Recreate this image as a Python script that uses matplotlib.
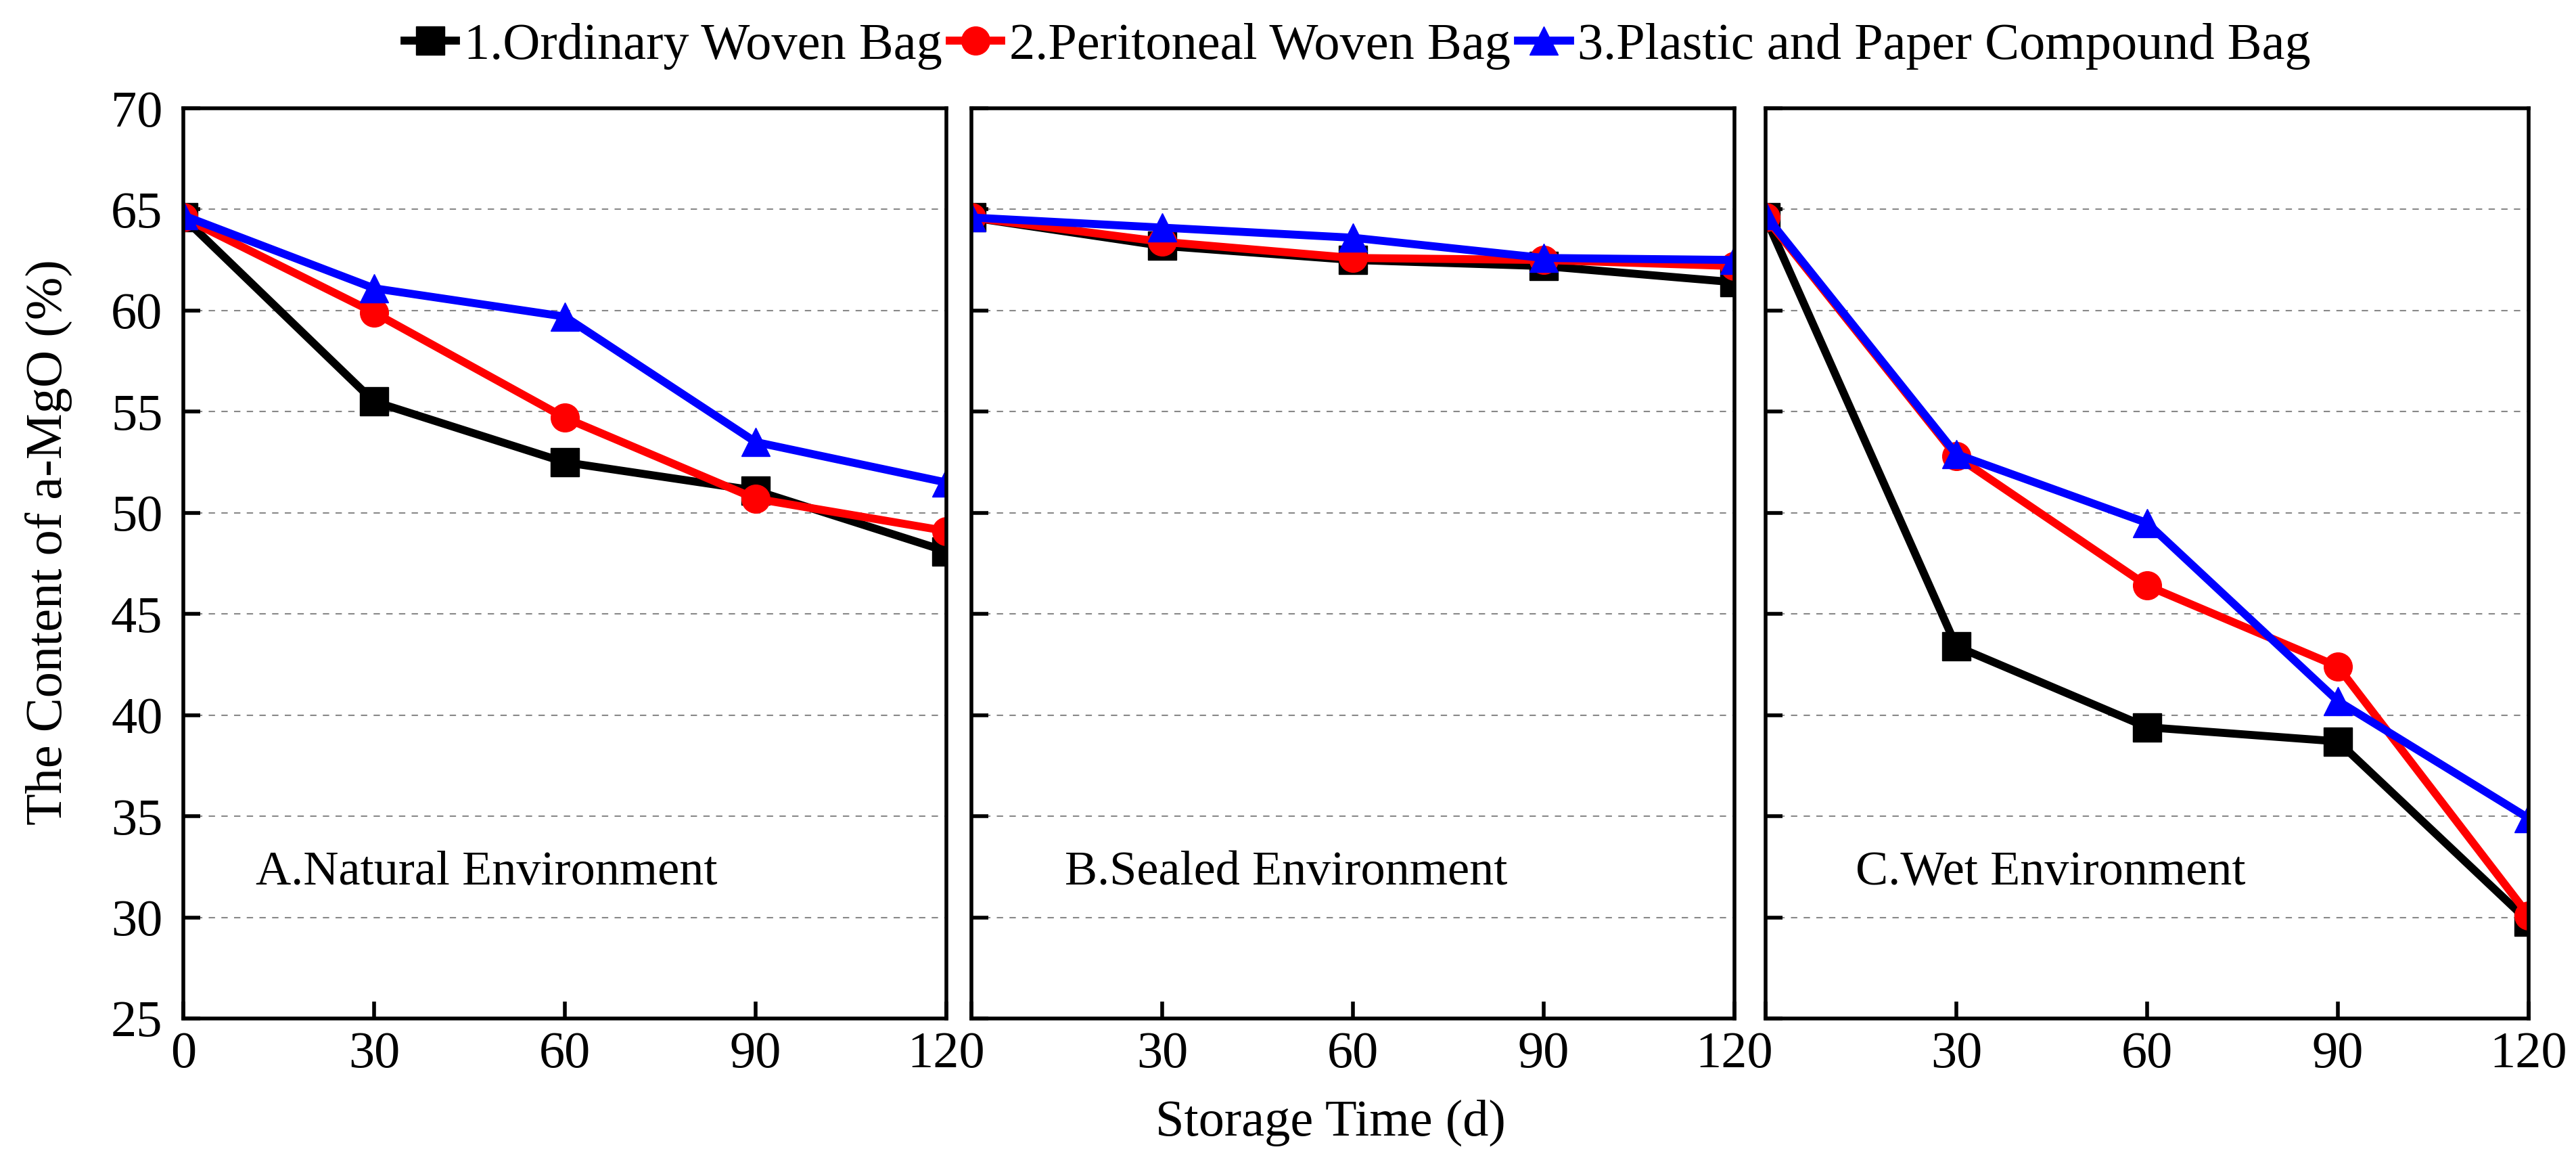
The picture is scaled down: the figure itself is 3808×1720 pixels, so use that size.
import matplotlib
matplotlib.use("Agg")
import matplotlib.pyplot as plt
from matplotlib.lines import Line2D

plt.rcParams['font.family'] = ['Liberation Serif', 'DejaVu Serif']

days = [0, 30, 60, 90, 120]
series_names = ["1.Ordinary Woven Bag", "2.Peritoneal Woven Bag", "3.Plastic and Paper Compound Bag"]
panel_titles = ["A.Natural Environment", "B.Sealed Environment", "C.Wet Environment"]

natural_ordinary = [64.6, 55.5, 52.5, 51.1, 48.1]
natural_peritoneal = [64.6, 59.9, 54.7, 50.7, 49.1]
natural_plastic = [64.7, 61.1, 59.7, 53.5, 51.5]

sealed_ordinary = [64.6, 63.2, 62.5, 62.2, 61.4]
sealed_peritoneal = [64.6, 63.4, 62.6, 62.5, 62.2]
sealed_plastic = [64.6, 64.1, 63.6, 62.6, 62.5]

wet_ordinary = [64.6, 43.4, 39.4, 38.7, 29.8]
wet_peritoneal = [64.6, 52.8, 46.4, 42.4, 30.1]
wet_plastic = [64.7, 52.9, 49.5, 40.7, 34.9]

yticks = [25, 30, 35, 40, 45, 50, 55, 60, 65, 70]
xticks = [0, 30, 60, 90, 120]

colors = ["black", "#ff0000", "#0000ff"]
markers = ["s", "o", "^"]

panels = [
    (natural_ordinary, natural_peritoneal, natural_plastic),
    (sealed_ordinary, sealed_peritoneal, sealed_plastic),
    (wet_ordinary, wet_peritoneal, wet_plastic),
]

W, H = 3808, 1720
fig = plt.figure(figsize=(W / 100, H / 100), dpi=100)

lefts = [271, 1436, 2610]
width = 1128
bottom_px, top_px = 1505, 160

FS = 55
axes = []
for i, (data, title) in enumerate(zip(panels, panel_titles)):
    ax = fig.add_axes([lefts[i] / W, 1 - bottom_px / H, width / W, (bottom_px - top_px) / H])
    axes.append(ax)
    for ys, c, m in zip(data, colors, markers):
        ax.plot(days, ys, color=c, marker=m, lw=8.5, markersize=30, clip_on=True, zorder=2.2)
    ax.set_xlim(0, 120)
    ax.set_ylim(25, 70)
    ax.set_yticks(yticks)
    ax.set_xticks(xticks)
    ax.grid(axis='y', linestyle=(0, (4.5, 4.5)), color='#888888', lw=1.5, zorder=0)
    ax.tick_params(direction='in', length=18, width=4, labelsize=FS)
    ax.tick_params(axis='x', pad=14)
    ax.tick_params(axis='y', pad=22)
    for sp in ax.spines.values():
        sp.set_linewidth(4)
    if i == 0:
        ax.set_xticklabels([str(v) for v in xticks])
    else:
        ax.set_xticklabels([""] + [str(v) for v in xticks[1:]])
        ax.set_yticklabels([])
    ax.text([11.4, 14.7, 14.2][i], 32.2, title, fontsize=52, va='center', ha='left')

fig.text(73 / W, 0.534, "The Content of a-MgO (%)", fontsize=FS, rotation=90,
         ha='center', va='center')
fig.text(1967 / W, 1 - 1659 / H, "Storage Time (d)", fontsize=FS, ha='center', va='center')

handles = [Line2D([0], [0], color=c, marker=m, lw=8.5, markersize=30) for c, m in zip(colors, markers)]
fig.legend(handles, series_names, loc='center', bbox_to_anchor=(0.527, 1 - 68 / H), ncol=3,
           frameon=False, fontsize=FS, handlelength=1.0, handletextpad=0.15, columnspacing=0.15,
           borderpad=0)

fig.savefig("out.png", dpi=100)
